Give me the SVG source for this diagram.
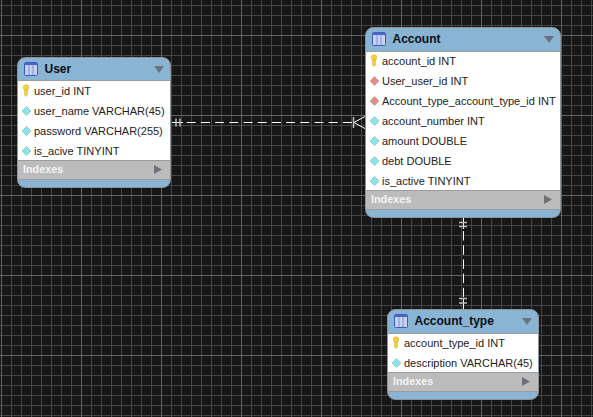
<svg xmlns="http://www.w3.org/2000/svg" width="593" height="417" viewBox="0 0 593 417">
<style>
text{font-family:"Liberation Sans",Arial,sans-serif}
.title{font-size:12px;font-weight:bold;fill:#0a0f16}
.col{font-size:11px;fill:#222}
.idx{font-size:10.8px;font-weight:bold;fill:#f4f4f4}
.edge{fill:#8ab4d4;stroke:#8d959c;stroke-width:1}
.body{fill:#fff}
.band{fill:#bcbcbc}
.sep{stroke:#9c9c9c;stroke-width:1}
.tri{fill:#6d7278}
.conn{stroke:#fff;stroke-width:1;fill:none}
.mark{stroke:#bdbdbd;stroke-width:1.5;fill:none}
.key{fill:#f5d33c;stroke:#d3aa2a;stroke-width:.5}
.attr{fill:#86e6e8;stroke:#97b4b6;stroke-width:.7}
.fk{fill:#e58a8a;stroke:#bda0a0;stroke-width:.7}
.icon{fill:#c6d1f2;stroke:#3f5cb8;stroke-width:1}
.iconl{stroke:#7d92d6;stroke-width:1}
</style>
<defs>
<pattern id="g" x="1" y="5" width="10" height="10" patternUnits="userSpaceOnUse">
<path d="M.5 0V10M0 .5H10" stroke="#454545" stroke-width="1" fill="none"/>
</pattern>
<pattern id="G" x="1" y="35" width="80" height="80" patternUnits="userSpaceOnUse">
<path d="M.5 0V80M0 .5H80" stroke="#646464" stroke-width="1" fill="none"/>
</pattern>
<g id="tbl"><rect class="icon" x=".5" y=".5" width="13" height="13" rx="1"/><rect x="1" y="1" width="12" height="2" fill="#4a66c0"/><path class="iconl" d="M5 3V13M9 3V13"/></g>
<g id="k"><circle class="key" cx="0" cy="-2.5" r="2.8"/><path class="key" d="M-1.4 0H1.4V5L0 6.500L-1.4 5Z"/></g>
<path id="d" d="M0 -4.5L4.5 0L0 4.5L-4.5 0Z"/>
</defs>
<rect width="593" height="417" fill="#171717"/>
<rect width="593" height="417" fill="url(#g)"/>
<rect width="593" height="417" fill="url(#G)"/>
<g id="connectors">
<path class="conn" stroke-dasharray="9 5.2" d="M186.700 122.500H353"/>
<path class="conn" d="M172 122.500H183M365 116.500L354 122.500L365 128.500"/>
<path class="mark" d="M176 118.500V126.500M180 118.500V126.500M353.500 117V128"/>
<path class="conn" stroke-dasharray="9.500 4.700" d="M463.500 231V297"/>
<path class="conn" d="M463.500 218V229M463.500 298V309"/>
<path class="mark" d="M459 222.500H467M459 226.500H467M459 298.500H467M459 303H467"/>
</g>
<g id="user">
<rect class="edge" x="17.500" y="57.500" width="153" height="130" rx="8"/>
<rect class="body" x="18" y="81" width="152" height="79"/>
<rect class="band" x="18" y="160" width="152" height="19"/>
<path class="sep" d="M18 80.500H170M18 160.500H170M18 179.500H170"/>
<use href="#tbl" x="24" y="62"/>
<text class="title" x="44.500" y="73">User</text>
<path class="tri" d="M154 66H164L159 73Z"/>
<use href="#k" x="26" y="90"/>
<text class="col" x="34" y="95">user_id INT</text>
<use href="#d" class="attr" x="26.500" y="111"/>
<text class="col" x="34" y="115">user_name VARCHAR(45)</text>
<use href="#d" class="attr" x="26.500" y="131"/>
<text class="col" x="34" y="135">password VARCHAR(255)</text>
<use href="#d" class="attr" x="26.500" y="151"/>
<text class="col" x="34" y="155">is_acive TINYINT</text>
<text class="idx" x="23" y="173">Indexes</text>
<path class="tri" d="M154 165L162 169.500L154 174Z"/>
</g>
<g id="account">
<rect class="edge" x="365.500" y="27.500" width="195" height="190" rx="8"/>
<rect class="body" x="366" y="51" width="194" height="139"/>
<rect class="band" x="366" y="190" width="194" height="19"/>
<path class="sep" d="M366 51.500H560M366 190.500H560M366 209.500H560"/>
<use href="#tbl" x="372" y="32"/>
<text class="title" x="392.500" y="43">Account</text>
<path class="tri" d="M544 36H554L549 43Z"/>
<use href="#k" x="374" y="60"/>
<text class="col" x="382" y="65">account_id INT</text>
<use href="#d" class="fk" x="374.500" y="81"/>
<text class="col" x="382" y="85">User_user_id INT</text>
<use href="#d" class="fk" x="374.500" y="101"/>
<text class="col" x="382" y="105">Account_type_account_type_id INT</text>
<use href="#d" class="attr" x="374.500" y="121"/>
<text class="col" x="382" y="125">account_number INT</text>
<use href="#d" class="attr" x="374.500" y="141"/>
<text class="col" x="382" y="145">amount DOUBLE</text>
<use href="#d" class="attr" x="374.500" y="161"/>
<text class="col" x="382" y="165">debt DOUBLE</text>
<use href="#d" class="attr" x="374.500" y="181"/>
<text class="col" x="382" y="185">is_active TINYINT</text>
<text class="idx" x="371" y="203">Indexes</text>
<path class="tri" d="M544 195L552 199.500L544 204Z"/>
</g>
<g id="account_type">
<rect class="edge" x="387.500" y="309.500" width="151" height="90" rx="8"/>
<rect class="body" x="388" y="333" width="150" height="39"/>
<rect class="band" x="388" y="372" width="150" height="19"/>
<path class="sep" d="M388 333.500H538M388 372.500H538M388 391.500H538"/>
<use href="#tbl" x="394" y="314"/>
<text class="title" x="414.500" y="325">Account_type</text>
<path class="tri" d="M522 318H532L527 325Z"/>
<use href="#k" x="396" y="342"/>
<text class="col" x="404" y="347">account_type_id INT</text>
<use href="#d" class="attr" x="396.500" y="363"/>
<text class="col" x="404" y="367">description VARCHAR(45)</text>
<text class="idx" x="393" y="385">Indexes</text>
<path class="tri" d="M522 377L530 381.500L522 386Z"/>
</g>
</svg>
